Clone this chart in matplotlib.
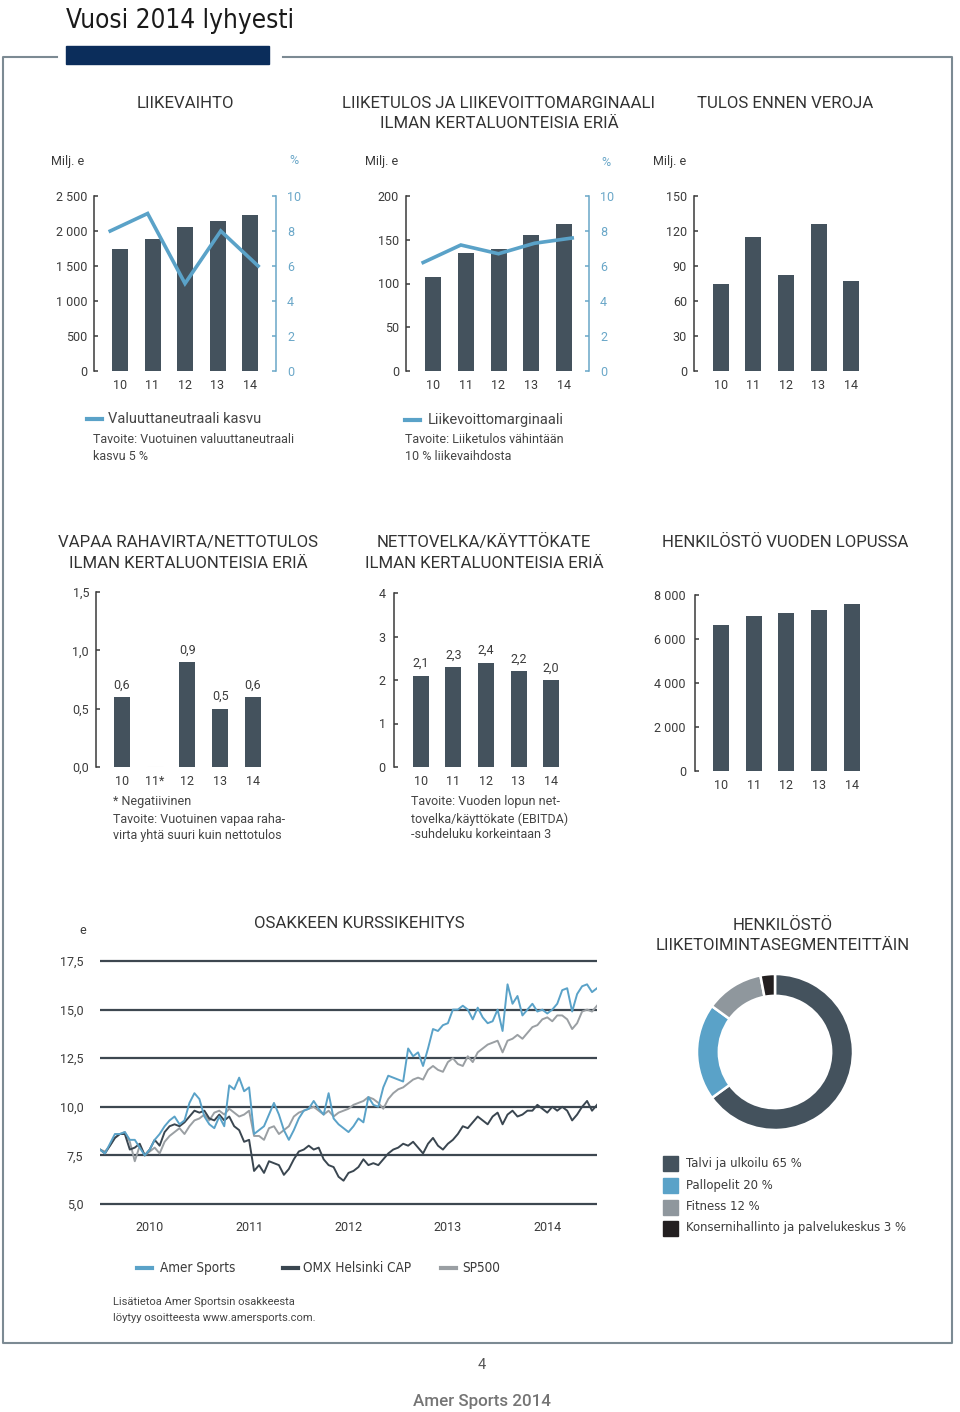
import os
import numpy as np
import matplotlib
matplotlib.use('Agg')
import matplotlib.pyplot as plt
from matplotlib import font_manager as fm
from matplotlib.lines import Line2D
from matplotlib.patches import Rectangle

W, H, DPI = 960, 1412, 100

# ---------------- data ----------------
years = ['10', '11', '12', '13', '14']
years_fcf = ['10', '11*', '12', '13', '14']
revenue = [1740, 1880, 2064, 2136, 2228]
fx_growth = [8, 9, 5, 8, 6]
ebit = [107, 135, 139, 155, 168]
ebit_margin = [6.2, 7.2, 6.7, 7.3, 7.6]
ebt = [75, 115, 82, 126, 77]
fcf_ratio = [0.6, 0.0, 0.9, 0.5, 0.6]
fcf_labels = ['0,6', '', '0,9', '0,5', '0,6']
nd_ebitda = [2.1, 2.3, 2.4, 2.2, 2.0]
nd_labels = ['2,1', '2,3', '2,4', '2,2', '2,0']
personnel = [6620, 7040, 7170, 7300, 7610]

segments = ['Talvi ja ulkoilu 65 %', 'Pallopelit 20 %', 'Fitness 12 %',
            'Konsernihallinto ja palvelukeskus 3 %']
segment_share = [65, 20, 12, 3]

stock_years = ['2010', '2011', '2012', '2013', '2014']
stock_time = np.linspace(2010.0, 2015.0, 101)
amer = [7.8, 7.6, 8.1, 8.6, 8.6, 8.7, 8.3, 8.3, 7.9, 7.5, 7.8, 8.3, 8.6, 9.0, 9.3, 9.5, 9.1, 9.3, 10.2, 10.7,
        10.4, 9.5, 9.1, 8.9, 9.5, 9.0, 11.1, 10.9, 11.5, 10.8, 11.0, 8.6, 8.8, 9.0, 9.6, 10.2, 9.6, 8.8, 8.3, 8.8,
        9.4, 9.8, 9.9, 10.3, 9.9, 9.6, 10.7, 9.4, 9.1, 8.9, 8.7, 9.0, 9.4, 9.2, 10.5, 10.1, 10.0, 11.0, 11.6, 11.5,
        11.4, 11.3, 13.0, 12.6, 12.8, 12.1, 13.0, 14.0, 13.9, 14.2, 14.3, 15.0, 15.0, 15.2, 15.0, 14.5, 15.1, 14.6, 14.3, 14.4,
        15.0, 13.9, 16.3, 15.3, 15.7, 14.7, 15.0, 15.3, 14.9, 15.0, 14.8, 15.0, 15.3, 16.0, 16.1, 14.9, 15.8, 16.2, 16.3, 15.9,
        16.1]
sp500 = [7.8, 7.7, 8.0, 8.4, 8.6, 8.7, 8.2, 7.2, 8.0, 7.5, 7.7, 7.9, 7.6, 8.2, 8.5, 8.7, 8.9, 8.6, 9.0, 9.3,
         9.4, 9.6, 9.3, 9.7, 9.8, 9.6, 9.9, 9.7, 9.5, 9.6, 9.8, 8.5, 8.5, 8.3, 8.9, 9.0, 8.6, 8.8, 9.0, 9.5,
         9.7, 9.8, 9.9, 10.0, 9.8, 9.6, 9.8, 9.5, 9.7, 9.8, 9.9, 10.1, 10.2, 10.3, 10.5, 10.4, 10.2, 9.9, 10.4, 10.7,
         10.9, 11.0, 11.2, 11.4, 11.5, 11.4, 11.9, 12.1, 11.9, 11.8, 12.3, 12.5, 12.2, 12.1, 12.6, 12.3, 12.8, 13.0, 13.2, 13.3,
         13.4, 12.8, 13.4, 13.5, 13.7, 13.5, 13.8, 14.1, 14.2, 14.5, 14.6, 14.4, 14.7, 14.7, 14.5, 14.0, 14.3, 14.9, 15.0, 14.9,
         15.2]
omx = [7.8, 7.6, 8.0, 8.4, 8.6, 8.6, 7.8, 7.9, 8.1, 7.5, 7.8, 8.3, 8.0, 8.7, 9.0, 9.1, 9.0, 9.2, 9.5, 9.8,
       9.7, 9.8, 9.4, 9.3, 9.6, 9.3, 9.5, 9.0, 8.8, 8.2, 8.3, 6.7, 7.0, 6.6, 7.2, 7.1, 7.0, 6.5, 6.8, 7.3,
       7.7, 7.8, 8.0, 7.8, 7.9, 7.3, 7.0, 6.9, 6.4, 6.2, 6.6, 6.7, 6.9, 7.3, 7.0, 7.1, 7.0, 7.3, 7.6, 7.8,
       7.9, 8.1, 8.0, 8.2, 7.9, 7.6, 8.1, 8.4, 8.0, 7.8, 8.1, 8.3, 8.6, 9.0, 8.9, 9.2, 9.5, 9.3, 9.1, 9.5,
       9.7, 9.1, 9.6, 9.8, 9.5, 9.6, 9.8, 9.8, 10.1, 9.9, 9.7, 10.0, 9.8, 10.0, 9.8, 9.3, 9.6, 10.0, 10.3, 9.8,
       10.1]

# ---------------- style ----------------
BAR = '#44525d'
BLUE = '#5aa2c8'
BLUE_AX = '#6aa7c8'
GRAY = '#9a9fa3'
DARK = '#3a4650'
BLACK = '#231f20'
NAVY = '#0b2d5b'
TXT = '#3b3b3b'
FRAME = '#7c8a93'
MAIN = ['Roboto', 'DejaVu Sans']


def cond_font(bold=False):
    cands = []
    for f in fm.fontManager.ttflist:
        b = os.path.basename(f.fname).lower()
        if not ('narrow' in b or 'condensed' in b):
            continue
        if any(k in b for k in ('italic', 'oblique', 'semi', 'light', 'extra', 'black', 'thin', 'medium')):
            continue
        if ('bold' in b) != bold:
            continue
        cands.append(f.fname)
    pri = ['liberationsansnarrow', 'dejavusanscondensed', 'notosans', 'roboto', 'opensans']

    def key(p):
        b = os.path.basename(p).lower().replace('-', '').replace('_', '')
        for i, k in enumerate(pri):
            if k in b:
                return i
        return 99
    cands.sort(key=key)
    if cands:
        return fm.FontProperties(fname=cands[0])
    return fm.FontProperties(family=MAIN, weight='bold' if bold else 'normal')


COND = cond_font(False)

fig = plt.figure(figsize=(W / DPI, H / DPI), dpi=DPI)
fig.patch.set_facecolor('white')
renderer = fig.canvas.get_renderer()


def fx(x):
    return x / W


def fy(y):
    return 1 - y / H


def T(x, y, s, size=9, color=TXT, ha='left', va='center', weight='normal', fp=None, **kw):
    if fp is not None:
        p = fp.copy()
        p.set_size(size)
        return fig.text(fx(x), fy(y), s, fontproperties=p, color=color, ha=ha, va=va, **kw)
    return fig.text(fx(x), fy(y), s, fontsize=size, color=color, ha=ha, va=va,
                    fontweight=weight, family=MAIN, **kw)


def fit_size(s, target_w, fp=None, weight='normal'):
    t = T(0, 0, s, size=10, fp=fp, weight=weight)
    w = t.get_window_extent(renderer).width
    t.remove()
    return 10 * target_w / w


def fax(l, t, r, b):
    return fig.add_axes([fx(l), fy(b), (r - l) / W, (b - t) / H])


# ---------------- frame ----------------
fig.add_artist(Line2D([fx(57), fx(3), fx(3), fx(952), fx(952), fx(283)],
                      [fy(57), fy(57), fy(1343), fy(1343), fy(57), fy(57)],
                      color=FRAME, lw=1.5, transform=fig.transFigure))
fig.add_artist(Rectangle((fx(66), fy(64)), fx(269) - fx(66), fy(46) - fy(64),
                         color=NAVY, transform=fig.transFigure))

ts = fit_size('Vuosi 2014 lyhyesti', 228, fp=COND, weight='medium')
T(66, 28, 'Vuosi 2014 lyhyesti', size=ts, color='#1a1a1a', va='baseline', fp=COND, fontweight='medium')

# ---------------- titles ----------------
TS = fit_size('LIIKETOIMINTASEGMENTEITTÄIN', 253)
for (x, y, s) in [(185, 103, 'LIIKEVAIHTO'),
                  (499, 103, 'LIIKETULOS JA LIIKEVOITTOMARGINAALI'),
                  (499, 124, 'ILMAN KERTALUONTEISIA ERIÄ'),
                  (785, 103, 'TULOS ENNEN VEROJA'),
                  (188, 542, 'VAPAA RAHAVIRTA/NETTOTULOS'),
                  (188, 563, 'ILMAN KERTALUONTEISIA ERIÄ'),
                  (484, 542, 'NETTOVELKA/KÄYTTÖKATE'),
                  (484, 563, 'ILMAN KERTALUONTEISIA ERIÄ'),
                  (785, 542, 'HENKILÖSTÖ VUODEN LOPUSSA'),
                  (359, 924, 'OSAKKEEN KURSSIKEHITYS'),
                  (783, 925, 'HENKILÖSTÖ'),
                  (783, 945, 'LIIKETOIMINTASEGMENTEITTÄIN')]:
    T(x, y, s, size=TS, ha='center', color='#333333')


# ---------------- bar charts ----------------
def bar_chart(l, t, r, b, c0, s, vals, ymax, yticks, ylabels, xlabels, ypad=5, xpad=5.5):
    ax = fax(l, t, r, b)
    ax.patch.set_alpha(0)
    x = np.arange(len(vals))
    ax.bar(x, vals, width=16 / s, color=BAR, zorder=2)
    ax.set_xlim((l - c0) / s, (r - c0) / s)
    ax.set_ylim(0, ymax)
    for sp in ('top', 'right', 'bottom'):
        ax.spines[sp].set_visible(False)
    ax.spines['left'].set_color(TXT)
    ax.spines['left'].set_linewidth(1.1)
    ax.set_yticks(yticks, ylabels)
    ax.tick_params(axis='y', direction='in', length=3, width=1.1, color=TXT,
                   labelcolor=TXT, labelsize=9, pad=ypad)
    ax.set_xticks(x, xlabels)
    ax.tick_params(axis='x', length=0, labelcolor=TXT, labelsize=9, pad=xpad)
    for lab in ax.get_xticklabels() + ax.get_yticklabels():
        lab.set_family(MAIN)
    return ax


def right_axis(ax, vals, xs):
    ax2 = ax.twinx()
    ax2.set_ylim(0, 10)
    for sp in ('top', 'left', 'bottom'):
        ax2.spines[sp].set_visible(False)
    ax2.spines['right'].set_color(BLUE_AX)
    ax2.spines['right'].set_linewidth(1.1)
    ax2.set_yticks([0, 2, 4, 6, 8, 10])
    ax2.tick_params(axis='y', direction='in', length=3, width=1.1, color=BLUE_AX,
                    labelcolor=BLUE_AX, labelsize=9, pad=8)
    for lab in ax2.get_yticklabels():
        lab.set_family(MAIN)
    ax2.plot(xs, vals, color=BLUE, lw=2.6, solid_joinstyle='miter', zorder=3)
    return ax2


LINE_X = [-0.3, 0.85, 2.0, 3.1, 4.25]

ax1 = bar_chart(94, 196, 276, 371, 120, 32.5, revenue, 2500,
                [0, 500, 1000, 1500, 2000, 2500], ['0', '500', '1 000', '1 500', '2 000', '2 500'], years)
right_axis(ax1, fx_growth, LINE_X)

ax2 = bar_chart(406, 196, 589, 371, 433, 32.75, ebit, 200,
                [0, 50, 100, 150, 200], ['0', '50', '100', '150', '200'], years)
right_axis(ax2, ebit_margin, LINE_X)

ax3 = bar_chart(694, 196, 880, 371, 720.7, 32.6, ebt, 150,
                [0, 30, 60, 90, 120, 150], ['0', '30', '60', '90', '120', '150'], years)

ax4 = bar_chart(96, 592, 280, 767, 122, 32.7, fcf_ratio, 1.5,
                [0, 0.5, 1.0, 1.5], ['0,0', '0,5', '1,0', '1,5'], years_fcf)
ax4.bar(1, 0, width=16 / 32.7, edgecolor='#dedede', lw=0.8, color='none')
for i, (v, lb) in enumerate(zip(fcf_ratio, fcf_labels)):
    if lb:
        ax4.annotate(lb, (i, v), xytext=(0, 4), textcoords='offset points', ha='center',
                     va='bottom', fontsize=9, color=TXT, family=MAIN)

ax5 = bar_chart(394, 593, 580, 767, 420.7, 32.6, nd_ebitda, 4,
                [0, 1, 2, 3, 4], ['0', '1', '2', '3', '4'], years, ypad=6)
for i, (v, lb) in enumerate(zip(nd_ebitda, nd_labels)):
    ax5.annotate(lb, (i, v), xytext=(0, 4), textcoords='offset points', ha='center',
                 va='bottom', fontsize=9, color=TXT, family=MAIN)

ax6 = bar_chart(695, 595, 880, 771, 721, 32.7, personnel, 8000,
                [0, 2000, 4000, 6000, 8000], ['0', '2 000', '4 000', '6 000', '8 000'], years, ypad=6.5)

# unit labels
T(51, 161, 'Milj. e', size=9)
T(289, 161, '%', size=9, color=BLUE_AX)
T(365, 162, 'Milj. e', size=9)
T(606, 162, '%', size=9, color=BLUE_AX, ha='center')
T(653, 161, 'Milj. e', size=9)

# row 1 legends
NOTE = '#444444'
fig.add_artist(Line2D([fx(87), fx(102)], [fy(419), fy(419)], color=BLUE, lw=3,
                      transform=fig.transFigure))
T(108, 419, 'Valuuttaneutraali kasvu', size=10.5, color=NOTE)
T(93, 440, 'Tavoite: Vuotuinen valuuttaneutraali', size=9, color=NOTE)
T(93, 457, 'kasvu 5 %', size=9, color=NOTE)
fig.add_artist(Line2D([fx(405), fx(420)], [fy(420), fy(420)], color=BLUE, lw=3,
                      transform=fig.transFigure))
T(428, 420, 'Liikevoittomarginaali', size=10.5, color=NOTE)
T(405, 440, 'Tavoite: Liiketulos vähintään', size=9, color=NOTE)
T(405, 457, '10 % liikevaihdosta', size=9, color=NOTE)

# row 2 notes
T(113, 802, '* Negatiivinen', size=9, color=NOTE)
T(113, 819, 'Tavoite: Vuotuinen vapaa raha-', size=9, color=NOTE)
T(113, 835, 'virta yhtä suuri kuin nettotulos', size=9, color=NOTE)
T(411, 802, 'Tavoite: Vuoden lopun net-', size=9, color=NOTE)
T(411, 819, 'tovelka/käyttökate (EBITDA)', size=9, color=NOTE)
T(411, 835, '-suhdeluku korkeintaan 3', size=9, color=NOTE)

# ---------------- stock chart ----------------
axs = fax(100, 961, 597, 1204)
axs.patch.set_alpha(0)
axs.set_xlim(2010, 2015)
axs.set_ylim(5, 17.5)
for sp in axs.spines.values():
    sp.set_visible(False)
grid_vals = [5.0, 7.5, 10.0, 12.5, 15.0, 17.5]
axs.hlines(grid_vals, 2010, 2015, color='#3d4750', lw=1.6, clip_on=False, zorder=1)
axs.set_yticks(grid_vals, ['5,0', '7,5', '10,0', '12,5', '15,0', '17,5'])
axs.set_xticks([2010.5, 2011.5, 2012.5, 2013.5, 2014.5], stock_years)
axs.tick_params(axis='y', length=0, pad=12, labelsize=9, labelcolor=TXT)
axs.tick_params(axis='x', length=0, pad=12, labelsize=9, labelcolor=TXT)
for lab in axs.get_xticklabels() + axs.get_yticklabels():
    lab.set_family(MAIN)
axs.plot(stock_time, sp500, color=GRAY, lw=1.4, zorder=2)
axs.plot(stock_time, omx, color=DARK, lw=1.4, zorder=3)
axs.plot(stock_time, amer, color=BLUE, lw=1.4, zorder=4)
T(83, 931, 'e', size=9, ha='center')

# stock legend
LS = fit_size('OMX Helsinki CAP', 108, fp=COND)
for (x0, col, lab) in [(137, BLUE, 'Amer Sports'), (283, DARK, 'OMX Helsinki CAP'), (441, GRAY, 'SP500')]:
    fig.add_artist(Line2D([fx(x0), fx(x0 + 15)], [fy(1268), fy(1268)], color=col, lw=3,
                          transform=fig.transFigure))
T(160, 1268, 'Amer Sports', size=LS, fp=COND)
T(303, 1268, 'OMX Helsinki CAP', size=LS, fp=COND)
T(462, 1268, 'SP500', size=LS, fp=COND)

T(113, 1302, 'Lisätietoa Amer Sportsin osakkeesta', size=8, color=NOTE)
T(113, 1318, 'löytyy osoitteesta www.amersports.com.', size=8, color=NOTE)

# ---------------- donut ----------------
R = 78
cx, cy = 775, 1052
axd = fax(cx - R, cy - R, cx + R, cy + R)
axd.pie(segment_share, colors=[BAR, BLUE, '#8f979d', BLACK], startangle=90, counterclock=False,
        radius=1.0, wedgeprops=dict(width=0.28, edgecolor='white', linewidth=1.8))
axd.set_xlim(-1, 1)
axd.set_ylim(-1, 1)
axd.set_aspect('equal')
axd.axis('off')

DS = fit_size(segments[3], 220, fp=COND)
for lab, col, y in zip(segments, [BAR, BLUE, '#8f979d', BLACK], [1163, 1185, 1207, 1228]):
    fig.add_artist(Rectangle((fx(663), fy(y + 7.5)), 15 / W, 15 / H, color=col,
                             transform=fig.transFigure))
    T(686, y, lab, size=DS, fp=COND)

# ---------------- footer ----------------
T(482, 1365, '4', size=10.5, color='#555555', ha='center')
FS = fit_size('Amer Sports 2014', 138, weight='medium')
T(482, 1406, 'Amer Sports 2014', size=FS, color='#757575', ha='center', va='baseline', weight='medium')

fig.savefig('out.png', dpi=DPI, facecolor='white')
